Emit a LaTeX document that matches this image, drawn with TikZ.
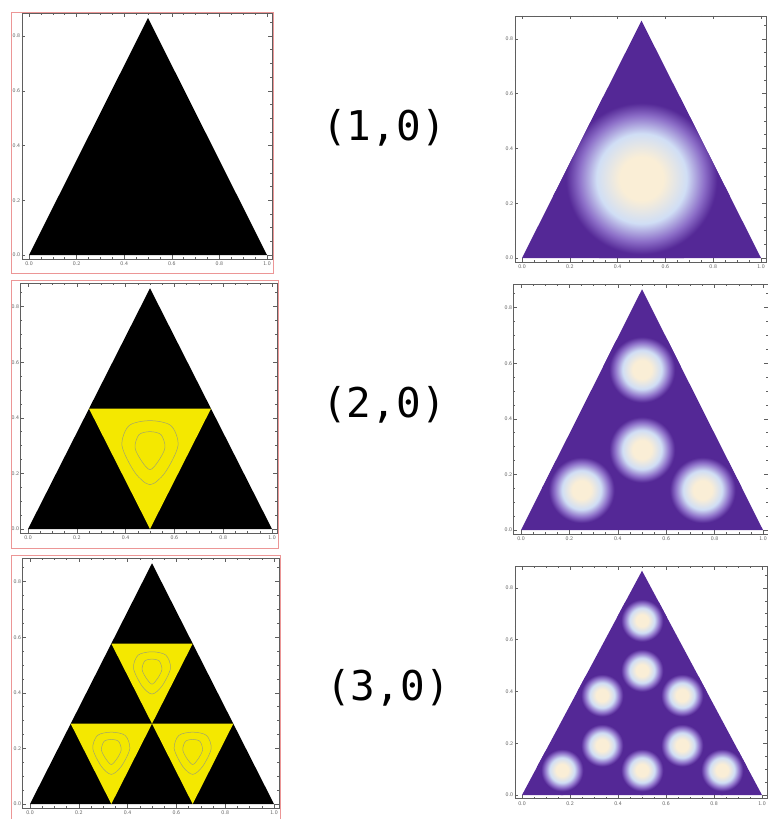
\documentclass[tikz,border=0pt]{standalone}
\usepackage{fontspec}
\newfontfamily\casefont{DejaVu Sans Mono}

\definecolor{plotpurple}{RGB}{84,40,150}
\definecolor{blobmid}{RGB}{140,110,200}
\definecolor{blobring}{RGB}{208,222,245}
\definecolor{blobcore}{RGB}{250,238,214}
\definecolor{levelyellow}{RGB}{244,232,0}
\definecolor{contourgray}{RGB}{160,165,110}
\definecolor{framegray}{RGB}{95,95,95}
\definecolor{boxred}{RGB}{236,150,150}

\pgfdeclareradialshading{blob}{\pgfpoint{0bp}{0bp}}{%
  color(0bp)=(blobcore); color(6bp)=(blobcore); color(12.5bp)=(blobring);
  color(17.5bp)=(blobmid); color(21bp)=(plotpurple); color(50bp)=(plotpurple)}

\tikzset{
  frameline/.style={draw=framegray, line width=0.5pt},
  ticklabel/.style={font=\sffamily\fontsize{5.5}{6}\selectfont, text=framegray, inner sep=0.5pt},
  redbox/.style={draw=boxred, line width=0.8pt},
  contourline/.style={draw=contourgray, line width=0.5pt},
  caselabel/.style={font={\casefont\fontsize{41}{49}\selectfont}},
}

% frame with ticks, in data coordinates of the current scope
\newcommand{\plotframe}[1]{%
  \draw[frameline] (-0.03,-0.014) rectangle (1.02,0.884);
  \foreach \i in {0,...,20} {
    \draw[frameline] (\i/20,-0.014) -- ++(0pt,1.5pt);
    \draw[frameline] (\i/20,0.884) -- ++(0pt,-1.5pt);
  }
  \foreach \i in {0,...,17} {
    \draw[frameline] (-0.03,\i/20) -- ++(1.5pt,0pt);
    \draw[frameline] (1.02,\i/20) -- ++(-1.5pt,0pt);
  }
  \foreach \t [count=\k] in {0.0,0.2,0.4,0.6,0.8,1.0} {
    \draw[frameline] (\t,-0.014) -- ++(0pt,3.5pt);
    \draw[frameline] (\t,0.884) -- ++(0pt,-3.5pt);
    \node[ticklabel, anchor=north, yshift=-2pt] (#1-x\k) at (\t,-0.014) {\t};
  }
  \foreach \t [count=\k] in {0.0,0.2,0.4,0.6,0.8} {
    \draw[frameline] (-0.03,\t) -- ++(3.5pt,0pt);
    \draw[frameline] (1.02,\t) -- ++(-3.5pt,0pt);
    \node[ticklabel, anchor=east, xshift=-1pt] (#1-y\k) at (-0.03,\t) {\t};
  }
}

% two level curves round a centroid, #1 = size factor
\newcommand{\levelcurves}[1]{%
  \draw[contourline, x=#1pt, y=#1pt] plot[smooth cycle] coordinates
    {(0,28) (21,23) (28,3) (15,-24) (0,-36) (-15,-24) (-28,3) (-21,23)};
  \draw[contourline, x=#1pt, y=#1pt] plot[smooth cycle] coordinates
    {(0,17) (11,14) (15,1) (8,-13) (0,-21) (-8,-13) (-15,1) (-11,14)};
}

\begin{document}
\begin{tikzpicture}[x=1pt, y=-1pt]
\useasboundingbox (0,0) rectangle (768,819);

% Left column: black/yellow triangles
\begin{scope}[shift={(29,255)}, x=238pt, y=273.7pt]
  \plotframe{a1}
  \fill[black] (0,0) -- (1,0) -- (0.5,0.866) -- cycle;
\end{scope}
\draw[redbox] (11,12) rectangle (273,273);

\begin{scope}[shift={(28,529)}, x=244pt, y=278pt]
  \plotframe{a2}
  \fill[black] (0,0) -- (1,0) -- (0.5,0.866) -- cycle;
  \fill[levelyellow] (0.25,0.433) -- (0.75,0.433) -- (0.5,0) -- cycle;
  \begin{scope}[shift={(0.5,0.289)}] \levelcurves{1} \end{scope}
\end{scope}
\draw[redbox] (11,280) rectangle (278,548);

\begin{scope}[shift={(30,804)}, x=244pt, y=278pt]
  \plotframe{a3}
  \fill[black] (0,0) -- (1,0) -- (0.5,0.866) -- cycle;
  \fill[levelyellow] (0.3333,0.577) -- (0.6667,0.577) -- (0.5,0.289) -- cycle;
  \fill[levelyellow] (0.1667,0.289) -- (0.5,0.289) -- (0.3333,0) -- cycle;
  \fill[levelyellow] (0.5,0.289) -- (0.8333,0.289) -- (0.6667,0) -- cycle;
  \begin{scope}[shift={(0.5,0.481)}] \levelcurves{0.66} \end{scope}
  \begin{scope}[shift={(0.3333,0.192)}] \levelcurves{0.66} \end{scope}
  \begin{scope}[shift={(0.6667,0.192)}] \levelcurves{0.66} \end{scope}
\end{scope}
\draw[redbox] (11,555) rectangle (280,830);

% Middle: labels
\node[caselabel] (case1) at (384,128) {(1,0)};
\node[caselabel] (case2) at (384,405) {(2,0)};
\node[caselabel] (case3) at (388,688) {(3,0)};

% Right column: densities
\begin{scope}[shift={(522,258)}, x=239pt, y=274pt]
  \plotframe{b1}
  \fill[plotpurple] (0,0) -- (1,0) -- (0.5,0.866) -- cycle;
  \begin{scope}
    \clip (0,0) -- (1,0) -- (0.5,0.866) -- cycle;
    \shade[shading=blob] (0.5,0.29) circle (90pt);
  \end{scope}
\end{scope}

\begin{scope}[shift={(521,530)}, x=242pt, y=278pt]
  \plotframe{b2}
  \fill[plotpurple] (0,0) -- (1,0) -- (0.5,0.866) -- cycle;
  \begin{scope}
    \clip (0,0) -- (1,0) -- (0.5,0.866) -- cycle;
    \foreach \p in {(0.25,0.144),(0.75,0.144),(0.5,0.577),(0.5,0.289)}
      \shade[shading=blob] \p circle (39pt);
  \end{scope}
\end{scope}

\begin{scope}[shift={(522,795)}, x=240pt, y=259pt]
  \plotframe{b3}
  \fill[plotpurple] (0,0) -- (1,0) -- (0.5,0.866) -- cycle;
  \begin{scope}
    \clip (0,0) -- (1,0) -- (0.5,0.866) -- cycle;
    \foreach \p in {(0.1667,0.096),(0.5,0.096),(0.8333,0.096),
                    (0.3333,0.385),(0.6667,0.385),(0.5,0.674),
                    (0.3333,0.192),(0.6667,0.192),(0.5,0.481)}
      \shade[shading=blob] \p circle (25pt);
  \end{scope}
\end{scope}
\end{tikzpicture}
\end{document}
